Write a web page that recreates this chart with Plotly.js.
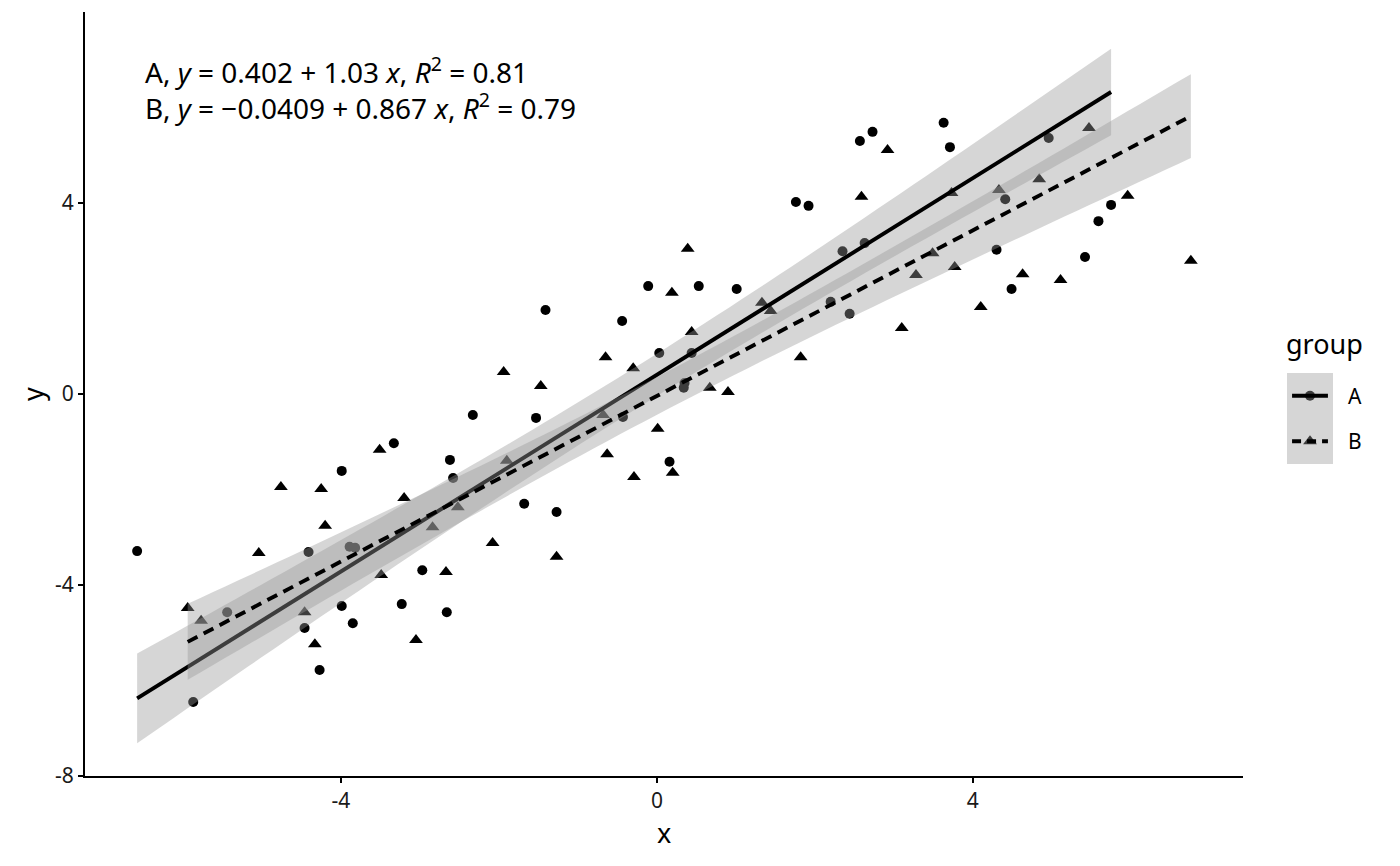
<!DOCTYPE html>
<html>
<head>
<meta charset="utf-8">
<script src="https://cdn.plot.ly/plotly-3.0.1.min.js"></script>
<style>html,body{margin:0;padding:0;background:#fff;}#chart{width:1400px;height:866px;}</style>
</head>
<body>
<div id="chart"></div>
<script>
// ---- data ----
const groupNames = ["A", "B"];
const xA = [-6.58,-5.87,-5.44,-4.46,-4.41,-4.27,-3.99,-3.99,-3.89,-3.82,-3.85,-3.33,-3.23,-2.97,-2.66,-2.62,-2.58,-2.33,-1.68,-1.53,-1.41,-1.27,-0.44,-0.43,-0.11,0.03,0.16,0.34,0.35,0.44,0.53,1.01,1.76,1.92,2.20,2.35,2.44,2.57,2.63,2.73,3.63,3.71,4.30,4.41,4.49,4.96,5.42,5.59,5.75];
const yA = [-3.29,-6.45,-4.57,-4.90,-3.31,-5.78,-1.61,-4.44,-3.20,-3.22,-4.80,-1.03,-4.40,-3.69,-4.57,-1.38,-1.76,-0.44,-2.30,-0.50,1.76,-2.47,1.53,-0.48,2.26,0.86,-1.42,0.13,0.23,0.86,2.26,2.20,4.02,3.94,1.93,2.99,1.68,5.30,3.16,5.49,5.68,5.17,3.02,4.08,2.20,5.36,2.87,3.62,3.96];
const xB = [-5.94,-5.77,-5.04,-4.76,-4.46,-4.33,-4.25,-4.20,-3.51,-3.49,-3.20,-3.05,-2.84,-2.67,-2.52,-2.08,-1.94,-1.90,-1.47,-1.27,-0.68,-0.65,-0.63,-0.30,-0.29,0.01,0.19,0.20,0.39,0.44,0.67,0.90,1.33,1.44,1.82,2.59,2.92,3.10,3.28,3.49,3.73,3.77,4.10,4.33,4.63,4.84,5.11,5.47,5.96,6.76];
const yB = [-4.48,-4.75,-3.33,-1.95,-4.57,-5.24,-1.99,-2.76,-1.17,-3.79,-2.18,-5.15,-2.79,-3.73,-2.37,-3.12,0.46,-1.40,0.17,-3.41,-0.44,0.77,-1.26,0.54,-1.74,-0.73,2.12,-1.65,3.04,1.30,0.13,0.04,1.91,1.74,0.77,4.13,5.11,1.38,2.49,2.95,4.21,2.66,1.82,4.27,2.51,4.50,2.39,5.57,4.15,2.79];
// fitted coefficients as reported in the reference labels
const fitIntercept = [0.402, -0.0409];
const fitSlope = [1.03, 0.867];
const eqLabels = [
  "A, <i>y</i> = 0.402 + 1.03 <i>x</i>, <i>R</i><sup>2</sup> = 0.81",
  "B, <i>y</i> = \u22120.0409 + 0.867 <i>x</i>, <i>R</i><sup>2</sup> = 0.79"
];
const xTickVals = [-4, 0, 4];
const xTickText = ["-4", "0", "4"];
const yTickVals = [-8, -4, 0, 4];
const yTickText = ["-8", "-4", "0", "4"];

// ---- fitted line with 95% confidence band ----
function tq(df){const z=1.959964;return z+(z*z*z+z)/(4*df)+(5*Math.pow(z,5)+16*z*z*z+3*z)/(96*df*df);}
function fit(x,y,a0,b0){
  const n=x.length, mx=x.reduce((a,b)=>a+b,0)/n, my=y.reduce((a,b)=>a+b,0)/n;
  let sxx=0,sxy=0; for(let i=0;i<n;i++){sxx+=(x[i]-mx)**2;sxy+=(x[i]-mx)*(y[i]-my);}
  const b=sxy/sxx, a=my-b*mx;
  let sse=0; for(let i=0;i<n;i++){sse+=(y[i]-a-b*x[i])**2;}
  const s=Math.sqrt(sse/(n-2)), t=tq(n-2);
  const lo=Math.min(...x), hi=Math.max(...x), gx=[],gy=[],up=[],dn=[];
  for(let k=0;k<80;k++){const xv=lo+(hi-lo)*k/79, yv=a0+b0*xv, se=s*Math.sqrt(1/n+(xv-mx)**2/sxx);
    gx.push(xv);gy.push(yv);up.push(yv+t*se);dn.push(yv-t*se);}
  return {gx,gy,up,dn};
}
const fA=fit(xA,yA,fitIntercept[0],fitSlope[0]), fB=fit(xB,yB,fitIntercept[1],fitSlope[1]);
const bandFill='rgba(153,153,153,0.4)';
function ribbon(f){return {x:f.gx.concat(f.gx.slice().reverse()),y:f.up.concat(f.dn.slice().reverse()),
  mode:'none',fill:'toself',fillcolor:bandFill,hoverinfo:'skip',showlegend:false,type:'scatter'};}

const lw=3.9, dashB='11px,7px';
const traces=[
  {x:xA,y:yA,mode:'markers',type:'scatter',marker:{symbol:'circle',size:10,color:'#000'},showlegend:false},
  {x:xB,y:yB,mode:'markers',type:'scatter',marker:{symbol:'triangle-up',size:12,color:'#000'},showlegend:false},
  ribbon(fA),
  {x:fA.gx,y:fA.gy,mode:'lines',type:'scatter',line:{color:'#000',width:lw},showlegend:false},
  ribbon(fB),
  {x:fB.gx,y:fB.gy,mode:'lines',type:'scatter',line:{color:'#000',width:lw,dash:dashB},showlegend:false},
  // legend keys (on a small hidden axis pair)
  {x:[0.5],y:[1.5],xaxis:'x2',yaxis:'y2',mode:'markers',type:'scatter',marker:{symbol:'circle',size:10,color:'#3d3d3d'},showlegend:false,hoverinfo:'skip'},
  {x:[0.5],y:[0.5],xaxis:'x2',yaxis:'y2',mode:'markers',type:'scatter',marker:{symbol:'triangle-up',size:12,color:'#3d3d3d'},showlegend:false,hoverinfo:'skip'},
  {x:[0.11,0.89],y:[1.5,1.5],xaxis:'x2',yaxis:'y2',mode:'lines',type:'scatter',line:{color:'#000',width:lw},showlegend:false,hoverinfo:'skip'},
  {x:[0.11,0.89],y:[0.5,0.5],xaxis:'x2',yaxis:'y2',mode:'lines',type:'scatter',line:{color:'#000',width:lw,dash:'9px,6px'},showlegend:false,hoverinfo:'skip'}
];

const L=85, R=10, T=12, B=90, W=1400, H=866;
const PW=W-L-R, PH=H-T-B;
const X=px=>(px-L)/PW, Y=py=>(H-B-py)/PH;
const font='Noto Sans, Open Sans, sans-serif';
const tickCol='#1a1a1a';

const layout={
  width:W,height:H,margin:{l:L,r:R,t:T,b:B},
  paper_bgcolor:'#fff',plot_bgcolor:'#fff',showlegend:false,
  font:{family:font,color:'#000',size:21},
  xaxis:{domain:[0,X(1243)],range:[-7.24,7.42],showgrid:false,zeroline:false,showline:true,linecolor:'#000',linewidth:2,
    ticks:'outside',ticklen:5,tickwidth:2,tickcolor:'#000',tickvals:xTickVals,ticktext:xTickText,
    tickfont:{size:21,color:tickCol,family:font},anchor:'y'},
  yaxis:{domain:[0,1],range:[-8,8],showgrid:false,zeroline:false,showline:true,linecolor:'#000',linewidth:2,
    ticks:'outside',ticklen:5,tickwidth:2,tickcolor:'#000',tickvals:yTickVals,ticktext:yTickText,
    tickfont:{size:21,color:tickCol,family:font},anchor:'x'},
  xaxis2:{domain:[X(1287),X(1333)],range:[0,1],visible:false,fixedrange:true,anchor:'y2'},
  yaxis2:{domain:[Y(464),Y(373)],range:[0,2],visible:false,fixedrange:true,anchor:'x2'},
  shapes:[{type:'rect',xref:'x2',yref:'y2',x0:0,x1:1,y0:0,y1:2,fillcolor:'#d6d6d6',line:{width:0},layer:'below'}],
  annotations:[
    {text:eqLabels.join('<br>'),xref:'paper',yref:'paper',x:X(143),y:Y(88),xanchor:'left',yanchor:'middle',align:'left',showarrow:false,font:{size:28,family:font,color:'#000'}},
    {text:'x',xref:'paper',yref:'paper',x:X(664),y:Y(832),xanchor:'center',yanchor:'middle',showarrow:false,font:{size:27,family:font,color:'#000'}},
    {text:'y',xref:'paper',yref:'paper',x:X(32),y:Y(394),xanchor:'center',yanchor:'middle',textangle:-90,showarrow:false,font:{size:27,family:font,color:'#000'}},
    {text:'group',xref:'paper',yref:'paper',x:X(1284),y:Y(343),xanchor:'left',yanchor:'middle',showarrow:false,font:{size:27,family:font,color:'#000'}},
    {text:groupNames[0],xref:'paper',yref:'paper',x:X(1346),y:Y(396),xanchor:'left',yanchor:'middle',showarrow:false,font:{size:21,family:font,color:'#000'}},
    {text:groupNames[1],xref:'paper',yref:'paper',x:X(1346),y:Y(441),xanchor:'left',yanchor:'middle',showarrow:false,font:{size:21,family:font,color:'#000'}}
  ]
};
Plotly.newPlot('chart',traces,layout,{displayModeBar:false,staticPlot:true});
</script>
</body>
</html>
